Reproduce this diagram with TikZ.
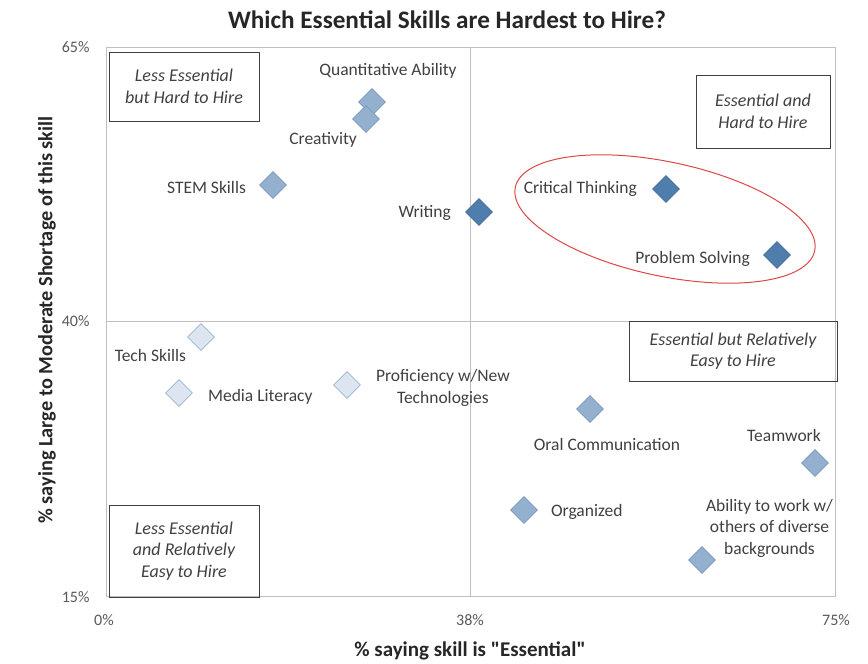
\documentclass[tikz,border=0pt]{standalone}
\usepackage{fontspec}
\setmainfont{Carlito}
\newfontfamily\plainquote{Carlito}
\usetikzlibrary{shapes.geometric, positioning}

\definecolor{pointblue}{RGB}{147,176,207}
\definecolor{pointedge}{RGB}{122,153,190}
\definecolor{darkblue}{RGB}{80,126,172}
\definecolor{darkedge}{RGB}{68,110,155}
\definecolor{paleblue}{RGB}{221,230,240}
\definecolor{paleedge}{RGB}{150,180,212}
\definecolor{gridgray}{RGB}{191,191,191}
\definecolor{tickgray}{RGB}{89,89,89}
\definecolor{textgray}{RGB}{64,64,64}
\definecolor{ringred}{RGB}{222,70,70}

\begin{document}
\begin{tikzpicture}[
			x=1pt, y=-1pt,
			every node/.style={font=\fontsize{17.5}{21.5}\selectfont, text=textgray},
			skill/.style={diamond, draw=pointedge, fill=pointblue, line width=0.8pt, minimum size=27pt, inner sep=0pt},
			hard/.style={skill, draw=darkedge, fill=darkblue},
			easy/.style={skill, draw=paleedge, fill=paleblue},
			lbl/.style={align=center, inner sep=2pt},
			quadrant/.style={draw=textgray, line width=0.8pt, font=\fontsize{18}{21.6}\selectfont\itshape, align=center},
			tick/.style={font=\fontsize{16}{19}\selectfont, text=tickgray},
			axis title/.style={font=\fontsize{21}{25}\selectfont\bfseries, text=black!85}
			]
			\useasboundingbox (0,0) rectangle (868,664);
			
			% Chart area
			\draw[gridgray] (106,47) rectangle (835,596);
			\draw[gridgray] (470,47) -- (470,596);
			\draw[gridgray] (106,321) -- (835,321);
			
			% Quadrants
			\node (less_hard) [quadrant, minimum width=150pt, minimum height=69pt] at (184,86.5) {Less Essential\\but Hard to Hire};
			\node (ess_hard) [quadrant, minimum width=134pt, minimum height=73pt] at (763,111.5) {Essential and\\Hard to Hire};
			\node (ess_easy) [quadrant, minimum width=208pt, minimum height=60pt] at (733,351) {Essential but Relatively\\Easy to Hire};
			\node (less_easy) [quadrant, minimum width=150pt, minimum height=92pt] at (184,551) {Less Essential\\and Relatively\\Easy to Hire};
			
			% Skills
			\node (quant) [skill] at (372,102) {};
			\node (creat) [skill] at (366,119) {};
			\node (stem) [skill] at (273,185) {};
			\node (writing) [hard] at (479,212) {};
			\node (critical) [hard] at (666,189) {};
			\node (problem) [hard] at (777,255) {};
			\node (tech) [easy] at (201,337) {};
			\node (media) [easy] at (179,393) {};
			\node (profic) [easy] at (347,385) {};
			\node (oral) [skill] at (590,409) {};
			\node (team) [skill] at (815,463) {};
			\node (organized) [skill] at (524,510) {};
			\node (diverse) [skill] at (702,560) {};
			
			% Labels
			\node (quant_lbl) [lbl, above=7.5pt of quant, xshift=16pt] {Quantitative Ability};
			\node (creat_lbl) [lbl, left=-7pt of creat, yshift=-21pt] {Creativity};
			\node (stem_lbl) [lbl, left=11pt of stem, yshift=-2pt] {STEM Skills};
			\node (writing_lbl) [lbl, left=12pt of writing, yshift=-1pt] {Writing};
			\node (critical_lbl) [lbl, left=13pt of critical] {Critical Thinking};
			\node (problem_lbl) [lbl, left=11pt of problem, yshift=-4pt] {Problem Solving};
			\node (tech_lbl) [lbl, left=-1pt of tech, yshift=-18pt] {Tech Skills};
			\node (media_lbl) [lbl, right=13pt of media, yshift=-4pt] {Media Literacy};
			\node (profic_lbl) [lbl, right=13pt of profic, yshift=-3pt] {Proficiency w/New\\Technologies};
			\node (oral_lbl) [lbl, below=13.5pt of oral, xshift=17pt] {Oral Communication};
			\node (team_lbl) [lbl, above=5pt of team, xshift=-31pt] {Teamwork};
			\node (organized_lbl) [lbl, right=11pt of organized, yshift=-2pt] {Organized};
			\node (diverse_lbl) [lbl, right=-12pt of diverse, yshift=32pt] {Ability to work w/\\others of diverse\\backgrounds};
			
			% Highlight
			\node (top_pair) [draw=ringred, line width=1pt, ellipse, rotate=-12, minimum width=306pt, minimum height=114pt, inner sep=0pt] at (665,219) {};
			
			% Axes
			\node (y_top) [tick, anchor=east] at (93,47) {65\%};
			\node (y_mid) [tick, anchor=east] at (93,321) {40\%};
			\node (y_bot) [tick, anchor=east] at (93,597) {15\%};
			\node (x_left) [tick] at (104,620) {0\%};
			\node (x_mid) [tick] at (470,620) {38\%};
			\node (x_right) [tick] at (836,620) {75\%};
			\node (x_title) [axis title] at (470,651) {\% saying skill is {\plainquote"}Essential{\plainquote"}};
			\node (y_title) [axis title, font=\fontsize{20.3}{24}\selectfont\bfseries, rotate=90] at (47,320) {\% saying Large to Moderate Shortage of this skill};
			\node (title) [font=\fontsize{25.2}{30}\selectfont\bfseries, text=black!85] at (447,20) {Which Essential Skills are Hardest to Hire?};
			
		\end{tikzpicture}
\end{document}
